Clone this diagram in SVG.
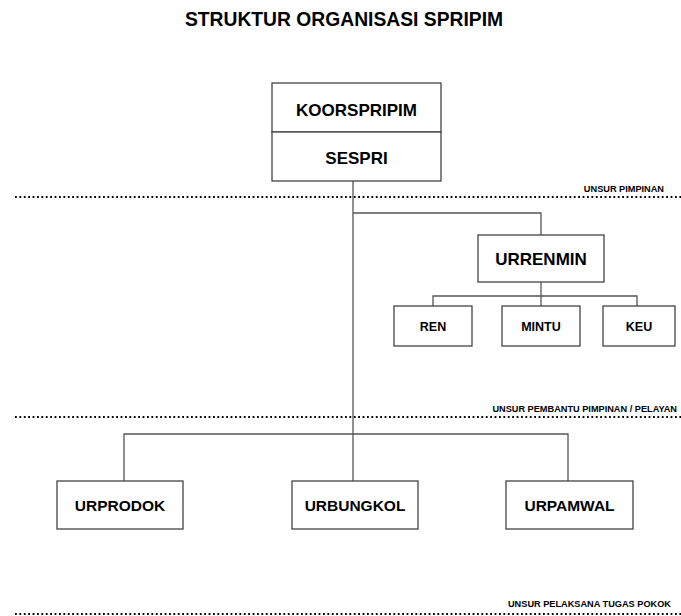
<svg xmlns="http://www.w3.org/2000/svg" width="681" height="616" viewBox="0 0 681 616">
<style>
.box{fill:#fff;stroke:#444;stroke-width:1.3}
.t{font-family:"Liberation Sans",Arial,sans-serif;font-weight:bold;fill:#000;text-anchor:middle}
.big{font-size:17px}
.mid{font-size:15.5px}
.sm{font-size:12.5px}
.lbl{font-family:"Liberation Sans",Arial,sans-serif;font-weight:bold;font-size:9.2px;fill:#000;text-anchor:end}
.dot{stroke:#000;stroke-width:1.8;stroke-dasharray:1.8 2.6;fill:none}
.c{stroke:#555;stroke-width:1.3;fill:none}
</style>
<rect width="681" height="616" fill="#fff"/>
<text x="344" y="26" class="t" style="font-size:19.3px">STRUKTUR ORGANISASI SPRIPIM</text>

<g id="separators">
<line class="dot" x1="15" y1="197" x2="681" y2="197"/>
<line class="dot" x1="15" y1="417" x2="681" y2="417"/>
<line class="dot" x1="15" y1="614" x2="681" y2="614"/>
<text class="lbl" x="664" y="192">UNSUR PIMPINAN</text>
<text class="lbl" x="677" y="412">UNSUR PEMBANTU PIMPINAN / PELAYAN</text>
<text class="lbl" x="671" y="607">UNSUR PELAKSANA TUGAS POKOK</text>
</g>

<g id="connectors">
<path class="c" d="M353 181V481"/>
<path class="c" d="M353 213H541V235"/>
<path class="c" d="M541 282V306"/>
<path class="c" d="M433 306V296H637V306"/>
<path class="c" d="M124 482V434H568V481"/>
</g>

<g id="koorspripim">
<rect class="box" x="272" y="83" width="169" height="49"/>
<text class="t big" x="356.5" y="116">KOORSPRIPIM</text>
</g>
<g id="sespri">
<rect class="box" x="272" y="132" width="169" height="49"/>
<text class="t big" x="356.5" y="164">SESPRI</text>
</g>
<g id="urrenmin">
<rect class="box" x="478" y="235" width="126" height="47"/>
<text class="t big" x="541" y="265">URRENMIN</text>
</g>
<g id="ren">
<rect class="box" x="394" y="306" width="78" height="40"/>
<text class="t sm" x="433" y="331">REN</text>
</g>
<g id="mintu">
<rect class="box" x="502" y="306" width="78" height="40"/>
<text class="t sm" x="541" y="331">MINTU</text>
</g>
<g id="keu">
<rect class="box" x="603" y="306" width="72" height="40"/>
<text class="t sm" x="639" y="331">KEU</text>
</g>
<g id="urprodok">
<rect class="box" x="57" y="481" width="126" height="48"/>
<text class="t mid" x="120" y="511">URPRODOK</text>
</g>
<g id="urbungkol">
<rect class="box" x="292" y="481" width="126" height="48"/>
<text class="t mid" x="355" y="511">URBUNGKOL</text>
</g>
<g id="urpamwal">
<rect class="box" x="506" y="481" width="127" height="48"/>
<text class="t mid" x="569.5" y="511">URPAMWAL</text>
</g>
</svg>
